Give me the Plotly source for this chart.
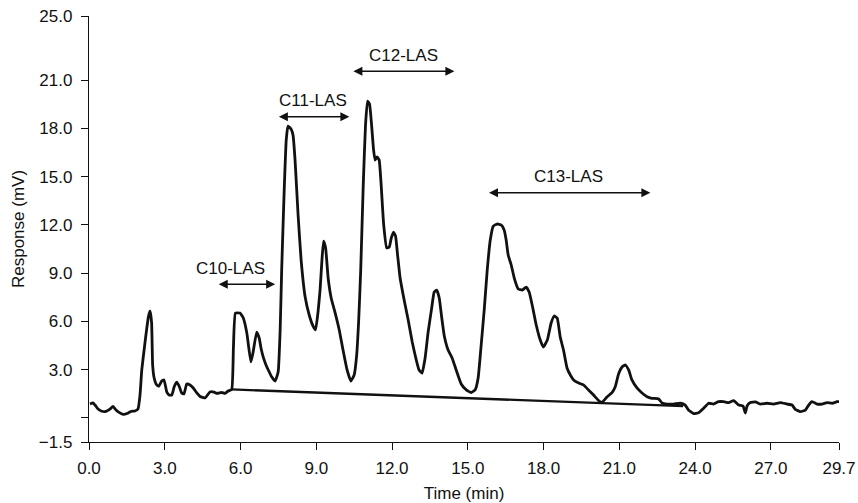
import plotly.graph_objects as go

# Chromatogram trace: retention time (min) and detector response (mV)
time_min = [
    0.04, 0.16, 0.24, 0.36, 0.48, 0.67, 0.83, 0.95, 1.07, 1.19, 1.35, 1.51, 1.66, 1.82, 1.94,
    2.02, 2.09, 2.22, 2.35, 2.42, 2.48, 2.52, 2.58, 2.68, 2.77, 2.88, 2.97, 3.08, 3.17, 3.28,
    3.37, 3.47, 3.57, 3.67, 3.76, 3.87, 4.00, 4.13, 4.27, 4.40, 4.60, 4.79, 4.95, 5.07, 5.26,
    5.39, 5.51, 5.65, 5.72, 5.80, 5.98, 6.11, 6.25, 6.41, 6.50, 6.64, 6.74, 6.81, 6.91, 7.01,
    7.10, 7.24, 7.37, 7.49, 7.57, 7.63, 7.73, 7.81, 7.88, 8.00, 8.08, 8.16, 8.28, 8.40, 8.56,
    8.72, 8.87, 8.97, 9.07, 9.15, 9.23, 9.29, 9.37, 9.47, 9.59, 9.75, 9.91, 10.06, 10.22, 10.37,
    10.50, 10.60, 10.68, 10.76, 10.86, 10.95, 11.03, 11.11, 11.19, 11.27, 11.33, 11.41, 11.49, 11.57, 11.67,
    11.79, 11.89, 11.97, 12.06, 12.14, 12.22, 12.32, 12.48, 12.64, 12.80, 12.96, 13.07, 13.19, 13.31, 13.43,
    13.57, 13.67, 13.77, 13.87, 13.97, 14.07, 14.22, 14.38, 14.54, 14.74, 14.94, 15.13, 15.29, 15.41, 15.53,
    15.65, 15.77, 15.89, 16.01, 16.16, 16.32, 16.44, 16.52, 16.60, 16.72, 16.84, 17.00, 17.16, 17.31, 17.43,
    17.55, 17.71, 17.87, 17.99, 18.15, 18.30, 18.42, 18.54, 18.66, 18.79, 18.93, 19.06, 19.19, 19.39, 19.58,
    19.78, 19.98, 20.18, 20.31, 20.51, 20.71, 20.84, 20.97, 21.11, 21.24, 21.37, 21.50, 21.70, 21.90, 22.10,
    22.29, 22.56, 22.69, 22.89, 23.15, 23.42, 23.61, 23.74, 23.94, 24.14, 24.34, 24.54, 24.73, 24.93, 25.13,
    25.33, 25.53, 25.73, 25.90, 25.99, 26.06, 26.19, 26.39, 26.58, 26.85, 27.11, 27.38, 27.64, 27.84, 27.97,
    28.17, 28.37, 28.50, 28.63, 28.83, 29.03, 29.23, 29.43, 29.62, 29.70,
]
response_mv = [
    0.86, 0.93, 0.80, 0.55, 0.43, 0.40, 0.55, 0.71, 0.49, 0.34, 0.22, 0.27, 0.40, 0.43, 0.55,
    1.42, 2.98, 4.72, 6.27, 6.65, 5.90, 3.29, 2.48, 2.05, 1.98, 2.29, 2.36, 1.61, 1.42, 1.42,
    1.92, 2.23, 1.98, 1.55, 1.49, 2.11, 2.05, 1.86, 1.55, 1.33, 1.24, 1.61, 1.61, 1.52, 1.58,
    1.52, 1.67, 1.77, 4.41, 6.52, 6.52, 6.21, 5.28, 3.48, 4.10, 5.34, 4.97, 4.35, 3.73, 3.29,
    2.98, 2.54, 2.29, 2.85, 5.47, 9.20, 14.17, 17.28, 18.15, 17.97, 17.59, 16.04, 12.62, 9.82, 7.52,
    6.40, 5.72, 5.47, 6.59, 7.95, 9.94, 11.00, 10.57, 8.70, 7.46, 6.52, 5.47, 4.22, 2.98, 2.29,
    2.67, 3.91, 6.09, 9.20, 14.48, 18.22, 19.71, 19.52, 18.22, 16.66, 16.04, 16.23, 16.04, 14.48, 12.00,
    10.57, 10.63, 11.19, 11.56, 11.31, 10.13, 8.70, 7.33, 6.09, 4.72, 3.60, 2.98, 2.79, 3.73, 5.34,
    6.83, 7.83, 7.95, 7.46, 6.21, 5.09, 4.22, 3.73, 2.98, 2.11, 1.74, 1.58, 1.74, 2.48, 4.53,
    6.71, 9.20, 11.06, 11.93, 12.06, 12.00, 11.69, 11.06, 10.13, 9.51, 8.70, 8.02, 7.95, 8.14, 7.83,
    7.02, 5.78, 4.84, 4.41, 4.84, 5.90, 6.34, 6.21, 5.03, 4.22, 3.10, 2.67, 2.36, 2.17, 2.05,
    1.74, 1.42, 1.08, 0.96, 1.30, 1.57, 1.94, 2.73, 3.17, 3.29, 2.98, 2.36, 1.86, 1.55, 1.32,
    1.22, 1.18, 0.93, 0.86, 0.86, 0.91, 0.80, 0.49, 0.27, 0.32, 0.60, 0.91, 0.86, 1.01, 1.01,
    0.95, 1.07, 0.80, 0.74, 0.30, 0.74, 0.95, 0.99, 0.86, 0.91, 0.86, 0.95, 0.86, 0.80, 0.53,
    0.39, 0.49, 0.80, 1.01, 0.86, 0.86, 0.95, 0.91, 1.01, 1.01,
]

# Integration baseline drawn under the LAS homologue peaks
baseline_time = [5.65, 23.53]
baseline_mv = [1.77, 0.73]

# Elution windows of each homologue: label, start time, end time, response level
homologues = ["C10-LAS", "C11-LAS", "C12-LAS", "C13-LAS"]
window_start = [5.08, 7.46, 10.41, 15.78]
window_end = [7.37, 10.31, 14.47, 22.23]
window_level = [8.31, 18.73, 21.57, 14.00]
label_dx = [-16, 0, 0, 0]

# Axis ticks
x_ticks = [0, 3, 6, 9, 12, 15, 18, 21, 24, 27, 29.7]
x_tick_text = ["0.0", "3.0", "6.0", "9.0", "12.0", "15.0", "18.0", "21.0", "24.0", "27.0", "29.7"]
y_ticks = [-1.5, 0, 3, 6, 9, 12, 15, 18, 21, 25]
y_tick_text = ["\u22121.5", "", "3.0", "6.0", "9.0", "12.0", "15.0", "18.0", "21.0", "25.0"]

FONT = "Liberation Sans, Arial, Helvetica, sans-serif"
INK = "#111111"

fig = go.Figure()
fig.add_trace(go.Scatter(
    x=time_min, y=response_mv, mode="lines",
    line=dict(color=INK, width=2.8, shape="spline", smoothing=0.4),
    hoverinfo="skip", showlegend=False,
))
fig.add_trace(go.Scatter(
    x=baseline_time, y=baseline_mv, mode="lines",
    line=dict(color=INK, width=2.3),
    hoverinfo="skip", showlegend=False,
))

annotations = []
for name, x0, x1, lvl, dx in zip(homologues, window_start, window_end, window_level, label_dx):
    annotations.append(dict(
        x=x1, y=lvl, ax=x0, ay=lvl, xref="x", yref="y", axref="x", ayref="y",
        text="", showarrow=True, arrowhead=2, arrowside="end+start",
        arrowsize=1.2, arrowwidth=1.5, arrowcolor=INK,
    ))
    annotations.append(dict(
        x=(x0 + x1) / 2, y=lvl, xref="x", yref="y", text=name, showarrow=False,
        yshift=16, xshift=dx, font=dict(family=FONT, size=17, color=INK),
    ))

fig.update_layout(
    width=858, height=503,
    margin=dict(l=89, r=19, t=16, b=61),
    paper_bgcolor="white", plot_bgcolor="white",
    font=dict(family=FONT, size=17, color=INK),
    annotations=annotations,
    xaxis=dict(
        range=[0, 29.7], tickvals=x_ticks, ticktext=x_tick_text,
        showline=True, linecolor=INK, linewidth=1.4, mirror=False,
        ticks="outside", ticklen=7, tickwidth=1.4, tickcolor=INK,
        showgrid=False, zeroline=False, automargin=False, ticklabelstandoff=3,
        tickfont=dict(family=FONT, size=17, color=INK),
        title=dict(text="Time (min)", font=dict(family=FONT, size=17, color=INK), standoff=11),
    ),
    yaxis=dict(
        range=[-1.5, 25.0], tickvals=y_ticks, ticktext=y_tick_text,
        showline=True, linecolor=INK, linewidth=1.4, mirror=False,
        ticks="outside", ticklen=7, tickwidth=1.4, tickcolor=INK,
        showgrid=False, zeroline=False, automargin=False, ticklabelstandoff=5,
        tickfont=dict(family=FONT, size=17, color=INK),
        title=dict(text="Response (mV)", font=dict(family=FONT, size=17, color=INK), standoff=9),
    ),
)

fig.write_html("out.html")
